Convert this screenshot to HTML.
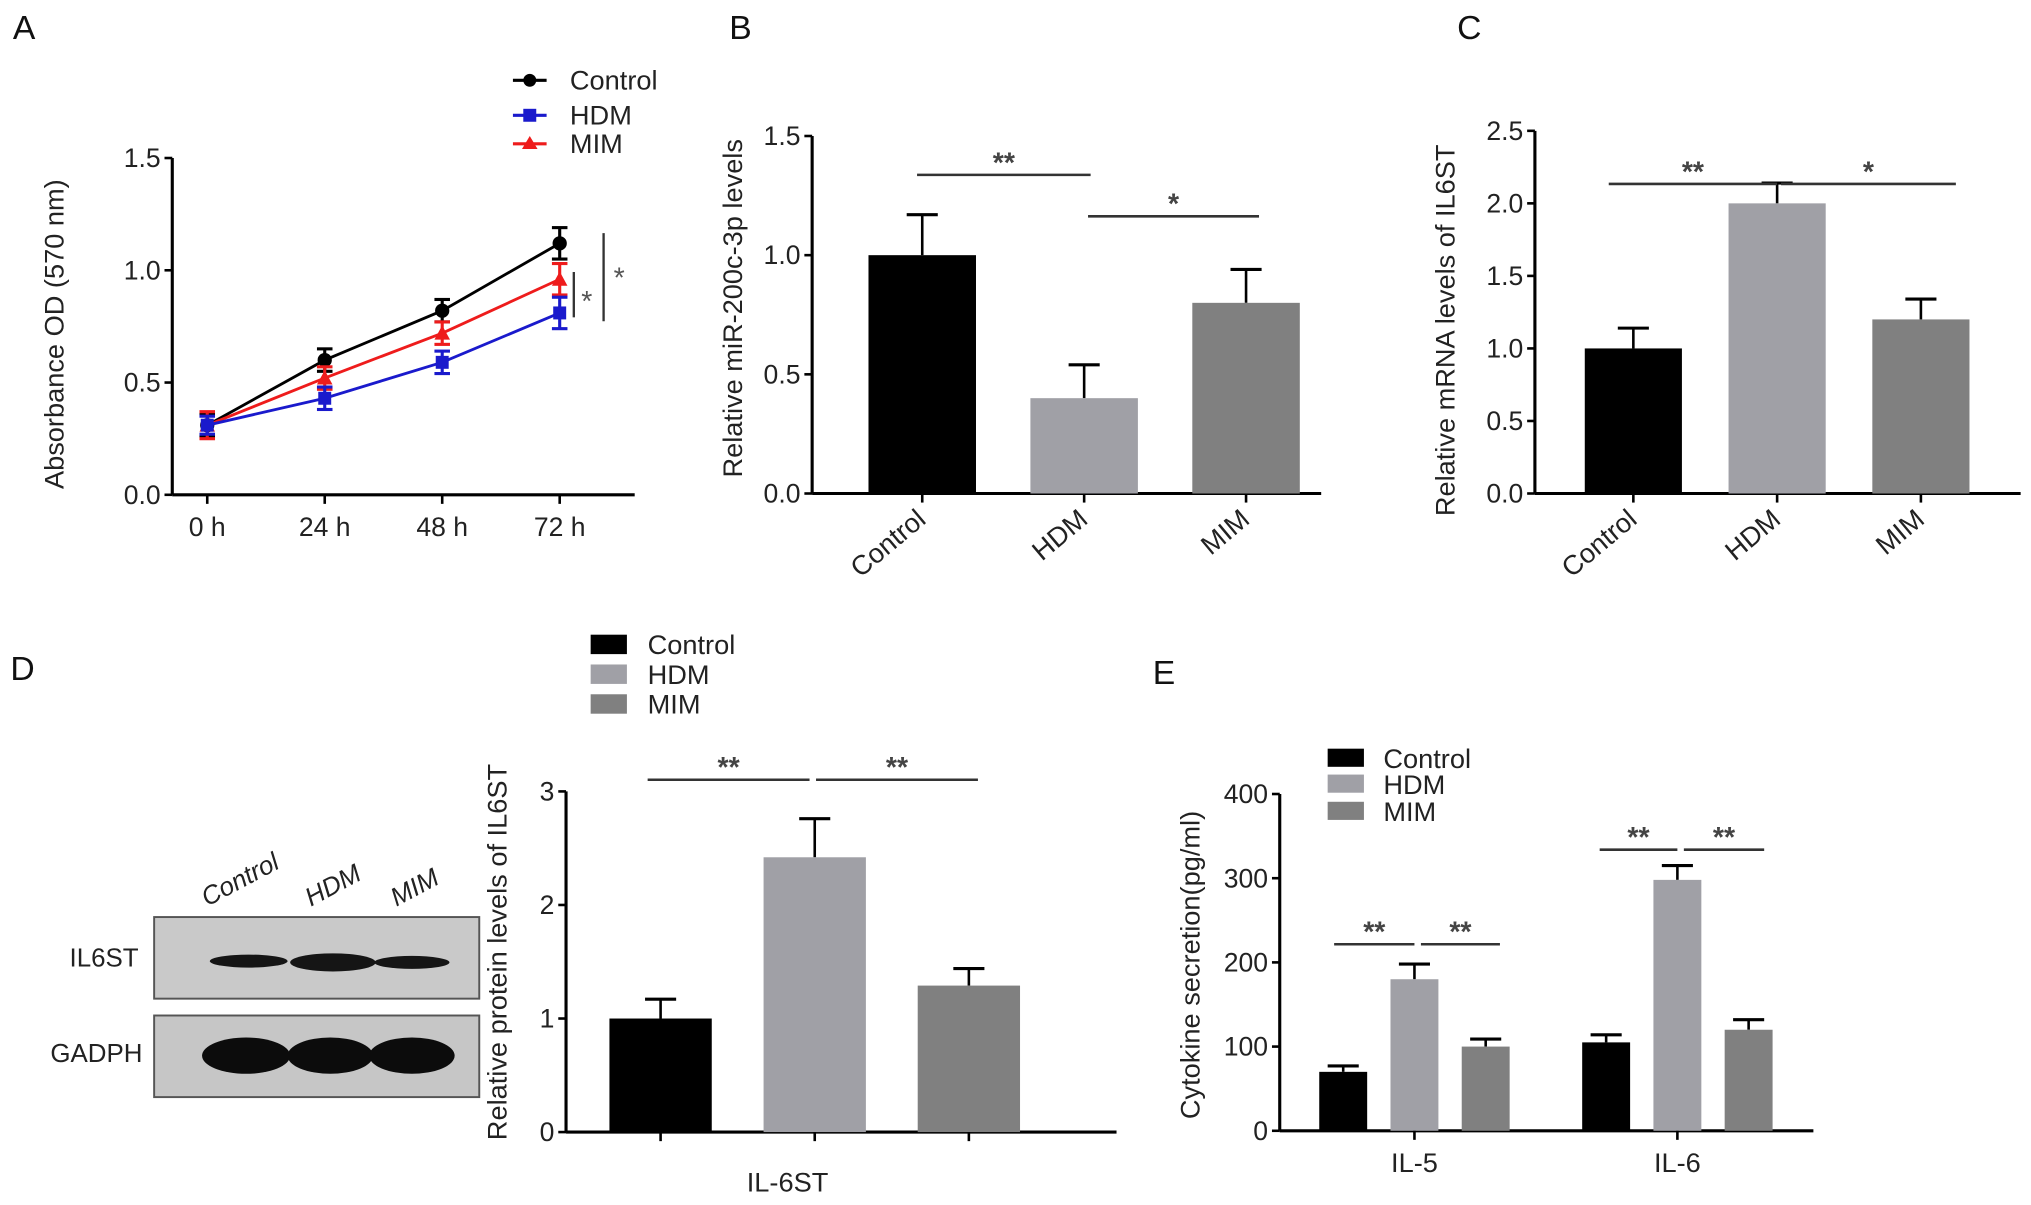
<!DOCTYPE html>
<html><head><meta charset="utf-8"><style>
html,body{margin:0;padding:0;background:#fff;}
svg{display:block;font-family:"Liberation Sans",Arial,sans-serif;}
</style></head><body>
<svg id="fig" width="2031" height="1205" viewBox="0 0 1568 930.3" preserveAspectRatio="none" xmlns="http://www.w3.org/2000/svg"></svg>
<script>
// Panel A data
const aTimes = ["0 h","24 h","48 h","72 h"];
const aControl = [0.31,0.60,0.82,1.12];
const aControlErr = [0.05,0.05,0.05,0.07];
const aHDM = [0.31,0.43,0.59,0.81];
const aHDMErr = [0.04,0.05,0.05,0.07];
const aMIM = [0.31,0.52,0.72,0.96];
const aMIMErr = [0.06,0.05,0.05,0.07];
const aTicks = [0,0.5,1.0,1.5];
// Panel B
const bCats = ["Control","HDM","MIM"];
const bVals = [1.0,0.40,0.80];
const bErr = [0.17,0.14,0.14];
const bTicks = [0,0.5,1.0,1.5];
// Panel C
const cCats = ["Control","HDM","MIM"];
const cVals = [1.0,2.0,1.2];
const cErr = [0.14,0.14,0.14];
const cTicks = [0,0.5,1.0,1.5,2.0,2.5];
// Panel D
const dVals = [1.0,2.42,1.29];
const dErr = [0.17,0.34,0.15];
const dTicks = [0,1,2,3];
// Panel E
const eGroups = ["IL-5","IL-6"];
const eControl = [70,105];
const eControlErr = [7,9];
const eHDM = [180,298];
const eHDMErr = [18,17];
const eMIM = [100,120];
const eMIMErr = [9,12];
const eTicks = [0,100,200,300,400];

const NS="http://www.w3.org/2000/svg";
const svg=document.getElementById('fig');
function el(tag,attrs,parent,text){const e=document.createElementNS(NS,tag);for(const k in attrs)e.setAttribute(k,attrs[k]);if(text!==undefined)e.textContent=text;(parent||svg).appendChild(e);return e;}
function line(x1,y1,x2,y2,w,c,p){return el('line',{x1,y1,x2,y2,stroke:c||'#000','stroke-width':w||2},p);}
const COL=['#000000','#a0a0a6','#808080'];
function yAxis(g,x,y0,y1,vmax,ticks,fmt,labelX,labelY,label){
  const ys=v=>y0-(v/vmax)*(y0-y1);
  line(x,y1,x,y0,2.4,'#000',g);
  ticks.forEach(t=>{line(x-6,ys(t),x,ys(t),2,'#000',g);
    const tx=el('text',{x:x-9,y:ys(t)+7,'font-size':20.5,'text-anchor':'end',fill:'#222'},g,fmt(t));
    });
  const lt=el('text',{x:labelX,y:labelY,'font-size':21,'text-anchor':'middle',fill:'#222',transform:`rotate(-90 ${labelX} ${labelY})`},g,label);
  
  return ys;
}
function sig(g,x1,x2,y,txt){line(x1,y,x2,y,2,'#333',g);
  const t=el('text',{x:(x1+x2)/2,y:y-2,'font-size':22,'text-anchor':'middle',fill:'#444','font-weight':'bold'},g,txt);
  }
function bar(g,cx,w,y0,yv,ye,color,name){
  line(cx,ye,cx,yv,2,'#000',g);line(cx-12,ye,cx+12,ye,2.4,'#000',g);
  const r=el('rect',{x:cx-w/2,y:yv,width:w,height:y0-yv,fill:color},g);
  
}
function label(txt,x,y){const t=el('text',{x,y,'font-size':26,fill:'#111'},svg,txt);}

// ---------- Panel A ----------
{
const g=el('g',{});
label('A',10,30);
const ys=yAxis(g,133,382,122,1.5,aTicks,t=>t.toFixed(1),49,258,'Absorbance OD (570 nm)');
line(133,382,490,382,2.4,'#000',g);
const xs=i=>160+i*90.7;
aTimes.forEach((t,i)=>{line(xs(i),382,xs(i),389,2,'#000',g);
  const tx=el('text',{x:xs(i),y:414,'font-size':20.5,'text-anchor':'middle',fill:'#222'},g,t);
  });
const series=[[aControl,aControlErr,'#000','control','circle'],[aMIM,aMIMErr,'#ee1c1c','mim','tri'],[aHDM,aHDMErr,'#1a1acc','hdm','sq']];
series.forEach(([v,e,c,n,m])=>{
  const pl=el('polyline',{points:v.map((d,i)=>xs(i)+','+ys(d)).join(' '),fill:'none',stroke:c,'stroke-width':2.2},g);
  
  v.forEach((d,i)=>{const x=xs(i);line(x,ys(d-e[i]),x,ys(d+e[i]),2.4,c,g);
    line(x-6,ys(d-e[i]),x+6,ys(d-e[i]),2.4,c,g);line(x-6,ys(d+e[i]),x+6,ys(d+e[i]),2.4,c,g);
    let mk;
    if(m==='circle')mk=el('circle',{cx:x,cy:ys(d),r:5.5,fill:c},g);
    else if(m==='sq')mk=el('rect',{x:x-5,y:ys(d)-5,width:10,height:10,fill:c},g);
    else mk=el('polygon',{points:`${x},${ys(d)-6} ${x-6},${ys(d)+5} ${x+6},${ys(d)+5}`,fill:c},g);
    });
});
line(443,210,443,245,1.8,'#333',g);el('text',{x:453,y:240,'font-size':22,'text-anchor':'middle',fill:'#555'},g,'*');
line(466,180,466,248,1.8,'#333',g);el('text',{x:478,y:222,'font-size':22,'text-anchor':'middle',fill:'#555'},g,'*');
[['Control','#000',62,'circle'],['HDM','#1a1acc',89,'sq'],['MIM','#ee1c1c',111,'tri']].forEach(([t,c,y,m])=>{
  const lg=el('g',{},g);
  line(396,y,422,y,2.4,c,lg);
  if(m==='circle')el('circle',{cx:409,cy:y,r:5,fill:c},lg);else if(m==='sq')el('rect',{x:404,y:y-5,width:10,height:10,fill:c},lg);
  else el('polygon',{points:`409,${y-6} 403,${y+4} 415,${y+4}`,fill:c},lg);
  el('text',{x:440,y:y+7,'font-size':21,fill:'#222'},lg,t);});
}
// ---------- Panel B & C ----------
function catPanel(name,lx,axisX,axisEnd,y0,y1,vmax,ticks,cats,vals,errs,x0,step,w,ylx,yly,ytitle){
  const g=el('g',{});
  const ys=yAxis(g,axisX,y0,y1,vmax,ticks,t=>t.toFixed(1),ylx,yly,ytitle);
  line(axisX,y0,axisEnd,y0,2.4,'#000',g);
  cats.forEach((c,i)=>{const cx=x0+i*step;
    bar(g,cx,w,y0,ys(vals[i]),ys(vals[i]+errs[i]),COL[i],'bar-'+c.toLowerCase());
    line(cx,y0,cx,y0+7,2,'#000',g);
    const tx=el('text',{x:cx+4,y:y0+22,'font-size':21,'text-anchor':'end',fill:'#222',transform:`rotate(-40 ${cx+4} ${y0+22})`},g,c);
    });
  return g;
}
label('B',563,30);
{const g=catPanel('panel-b-bar-chart',563,627,1020,381,105,1.5,bTicks,bCats,bVals,bErr,712,125,83,573,238,'Relative miR-200c-3p levels');
 sig(g,708,842,135,'**');sig(g,840,972,167,'*');}
label('C',1125,30);
{const g=catPanel('panel-c-bar-chart',1125,1185,1560,381,101,2.5,cTicks,cCats,cCats.map((_,i)=>cVals[i]),cErr,1261,111,75,1123,255,'Relative mRNA levels of IL6ST');
 sig(g,1242,1372,142,'**');sig(g,1375,1510,142,'*');}
// ---------- Panel D ----------
label('D',8,525);
{
const g=el('g',{});
[['Control',490],['HDM',513],['MIM',536]].forEach(([t,y],i)=>{const lg=el('g',{},g);
  el('rect',{x:456,y:y,width:28,height:15,fill:COL[i]},lg);el('text',{x:500,y:y+15,'font-size':21,fill:'#222'},lg,t);});
// blot
const bl=el('g',{},g);
[['Control',160],['HDM',240],['MIM',306]].forEach(([t,x])=>el('text',{x,y:700,'font-size':20,fill:'#222','font-style':'italic',transform:`rotate(-28 ${x} 700)`},bl,t));
el('rect',{x:119,y:708,width:251,height:63,fill:'#c9c9c9',stroke:'#555','stroke-width':1.5},bl);
el('rect',{x:119,y:784,width:251,height:63,fill:'#c6c6c6',stroke:'#555','stroke-width':1.5},bl);
[[192,742,30,5],[257,743,33,7],[318,743,29,5]].forEach(([cx,cy,rx,ry])=>el('ellipse',{cx,cy,rx,ry,fill:'#151515'},bl));
[[190,815,34,14],[255,815,33,14],[318,815,33,14]].forEach(([cx,cy,rx,ry])=>el('ellipse',{cx,cy,rx,ry,fill:'#0c0c0c'},bl));
el('text',{x:107,y:746,'font-size':20,'text-anchor':'end',fill:'#222'},bl,'IL6ST');
el('text',{x:110,y:820,'font-size':20,'text-anchor':'end',fill:'#222'},bl,'GADPH');
const ys=yAxis(g,437,874,611,3,dTicks,t=>String(t),391,735,'Relative protein levels of IL6ST');
line(437,874,862,874,2.4,'#000',g);
['control','hdm','mim'].forEach((n,i)=>{const cx=510+i*119;
  bar(g,cx,79,874,ys(dVals[i]),ys(dVals[i]+dErr[i]),COL[i],'bar-'+n);line(cx,874,cx,881,2,'#000',g);});
el('text',{x:608,y:920,'font-size':21,'text-anchor':'middle',fill:'#222'},g,'IL-6ST');
sig(g,500,625,602,'**');sig(g,630,755,602,'**');
}
// ---------- Panel E ----------
label('E',890,528);
{
const g=el('g',{});
[['Control',578],['HDM',598],['MIM',619]].forEach(([t,y],i)=>{const lg=el('g',{},g);
  el('rect',{x:1025,y:y,width:28,height:14,fill:COL[i]},lg);el('text',{x:1068,y:y+15,'font-size':21,fill:'#222'},lg,t);});
const ys=yAxis(g,988,873,613,400,eTicks,t=>String(t),926,745,'Cytokine secretion(pg/ml)');
line(988,873,1400,873,2.4,'#000',g);
const sets=[[eControl,eControlErr],[eHDM,eHDMErr],[eMIM,eMIMErr]];
const names=['control','hdm','mim'];
eGroups.forEach((gname,j)=>{const gc=1092+j*203;
  sets.forEach(([v,e],i)=>{const cx=gc+(i-1)*55;bar(g,cx,37,873,ys(v[j]),ys(v[j]+e[j]),COL[i],'bar-'+gname.toLowerCase()+'-'+names[i]);});
  line(gc,873,gc,880,2,'#000',g);
  const tx=el('text',{x:gc,y:905,'font-size':21,'text-anchor':'middle',fill:'#222'},g,gname);
  });
sig(g,1030,1092,729,'**');sig(g,1097,1158,729,'**');sig(g,1235,1295,656,'**');sig(g,1300,1362,656,'**');
}
</script>
</body></html>
